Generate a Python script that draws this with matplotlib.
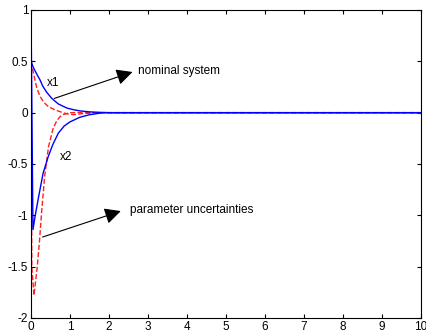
import numpy as np
import matplotlib.pyplot as plt

plt.rcParams['font.family'] = ['Liberation Sans', 'DejaVu Sans']

# nominal system (solid blue)
t_x1_nom = [0, 0.05, 0.1, 0.17, 0.23, 0.3, 0.4, 0.53, 0.7, 0.92, 1.1, 1.26, 1.5, 1.75, 2.0, 3.0, 10.0]
x1_nom = [0.5, 0.45, 0.41, 0.36, 0.32, 0.26, 0.2, 0.14, 0.085, 0.045, 0.028, 0.017, 0.008, 0.003, 0.0, 0.0, 0.0]
t_x2_nom = [0, 0.05, 0.1, 0.18, 0.31, 0.44, 0.56, 0.7, 0.85, 1.0, 1.25, 1.5, 1.85, 3.0, 10.0]
x2_nom = [1.0, -1.14, -1.02, -0.85, -0.59, -0.43, -0.31, -0.2, -0.13, -0.09, -0.045, -0.02, 0.0, 0.0, 0.0]

# parameter uncertainties (dashed red)
t_x1_unc = [0, 0.06, 0.1, 0.15, 0.23, 0.33, 0.44, 0.6, 0.74, 0.9, 1.1, 1.3, 1.7, 10.0]
x1_unc = [0.5, 0.39, 0.32, 0.24, 0.16, 0.1, 0.06, 0.03, 0.01, -0.01, -0.02, -0.01, 0.0, 0.0]
t_x2_unc = [0, 0.02, 0.077, 0.16, 0.22, 0.27, 0.35, 0.45, 0.57, 0.66, 0.74, 0.85, 1.0, 1.5, 10.0]
x2_unc = [1.0, -1.5, -1.78, -1.5, -1.24, -0.98, -0.62, -0.33, -0.15, -0.08, -0.04, -0.015, 0.0, 0.0, 0.0]

fig = plt.figure(figsize=(4.26, 3.33), dpi=100)
ax = fig.add_axes([31 / 426, 15 / 333, 390 / 426, 308 / 333])

ax.plot(t_x2_unc, x2_unc, '--', color='#ff2020', lw=1)
ax.plot(t_x1_unc, x1_unc, '--', color='#ff2020', lw=1)
ax.plot(t_x1_nom, x1_nom, 'b-', lw=1)
ax.plot(t_x2_nom, x2_nom, 'b-', lw=1)

ax.set_xlim(0, 10)
ax.set_ylim(-2, 1)
ax.set_xticks(range(0, 11))
ax.set_yticks(np.arange(-2, 1.01, 0.5))
ax.set_yticklabels(['-2', '-1.5', '-1', '-0.5', '0', '0.5', '1'])
ax.tick_params(direction='in', top=True, right=True, labelsize=8.5, length=3, pad=2)

ax.text(0.4, 0.29, 'x1', fontsize=8.5, va='center')
ax.text(0.73, -0.43, 'x2', fontsize=8.5, va='center')

ax.annotate('', xy=(2.67, 0.405), xytext=(0.53, 0.13),
            arrowprops=dict(arrowstyle='-|>,head_length=0.7,head_width=0.35',
                            color='k', lw=0.8, mutation_scale=14))
ax.text(2.74, 0.405, 'nominal system', fontsize=8.5, va='center')
ax.annotate('', xy=(2.37, -0.95), xytext=(0.23, -1.22),
            arrowprops=dict(arrowstyle='-|>,head_length=0.7,head_width=0.35',
                            color='k', lw=0.8, mutation_scale=14))
ax.text(2.54, -0.95, 'parameter uncertainties', fontsize=8.5, va='center')

fig.savefig('out.png', dpi=100)
